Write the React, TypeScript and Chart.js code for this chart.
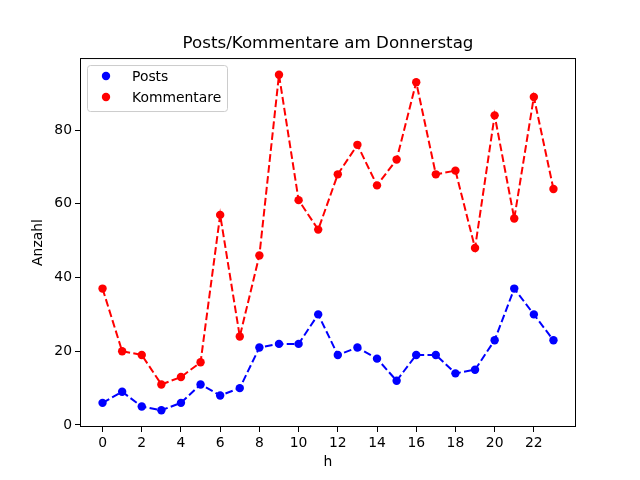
import { useEffect, useRef } from "react";
import { Chart, registerables, Plugin } from "chart.js";

Chart.register(...registerables);

const hours = [0, 1, 2, 3, 4, 5, 6, 7, 8, 9, 10, 11, 12, 13, 14, 15, 16, 17, 18, 19, 20, 21, 22, 23];
const posts = [6, 9, 5, 4, 6, 11, 8, 10, 21, 22, 22, 30, 19, 21, 18, 12, 19, 19, 14, 15, 23, 37, 30, 23];
const kommentare = [37, 20, 19, 11, 13, 17, 57, 24, 46, 95, 61, 53, 68, 76, 65, 72, 93, 68, 69, 48, 84, 56, 89, 64];
const xTicks = [0, 2, 4, 6, 8, 10, 12, 14, 16, 18, 20, 22];
const yTicks = [0, 20, 40, 60, 80];

const FONT = "'DejaVu Sans', sans-serif";

// frame around the plot area + matplotlib-style legend box
const mplPlugin: Plugin = {
   id: "mplFrame",
   afterDraw(chart) {
      const { ctx, chartArea: a } = chart;
      ctx.save();
      ctx.strokeStyle = "#000";
      ctx.lineWidth = 1;
      ctx.strokeRect(a.left + 0.5, a.top + 0.5, a.right - a.left - 1, a.bottom - a.top - 1);

      // legend
      const x = a.left + 7;
      const y = a.top + 7;
      const w = 140;
      const h = 46;
      ctx.fillStyle = "rgba(255,255,255,0.8)";
      ctx.strokeStyle = "#cccccc";
      ctx.beginPath();
      ctx.roundRect(x + 0.5, y + 0.5, w, h, 3);
      ctx.fill();
      ctx.stroke();

      ctx.font = `13.9px ${FONT}`;
      ctx.textBaseline = "middle";
      chart.data.datasets.forEach((ds, i) => {
         const cy = y + 11 + i * 21;
         ctx.fillStyle = ds.borderColor as string;
         ctx.beginPath();
         ctx.arc(x + 19, cy, 4.2, 0, Math.PI * 2);
         ctx.fill();
         ctx.fillStyle = "#000";
         ctx.fillText(ds.label ?? "", x + 45, cy + 1);
      });
      ctx.restore();
   },
};

export default function App() {
   const canvasRef = useRef<HTMLCanvasElement | null>(null);
   const chartRef = useRef<Chart | null>(null);

   useEffect(() => {
      document.body.style.margin = "0";
      if (!canvasRef.current) return;
      chartRef.current?.destroy();

      chartRef.current = new Chart(canvasRef.current, {
         type: "line",
         data: {
            datasets: [
               {
                  label: "Posts",
                  data: hours.map((h, i) => ({ x: h, y: posts[i] })),
                  borderColor: "#0000ff",
                  backgroundColor: "#0000ff",
                  borderWidth: 2,
                  borderDash: [7.7, 3.3],
                  pointRadius: 4.2,
                  pointBorderWidth: 0,
                  order: 1,
               },
               {
                  label: "Kommentare",
                  data: hours.map((h, i) => ({ x: h, y: kommentare[i] })),
                  borderColor: "#ff0000",
                  backgroundColor: "#ff0000",
                  borderWidth: 2,
                  borderDash: [7.7, 3.3],
                  pointRadius: 4.2,
                  pointBorderWidth: 0,
                  order: 0,
               },
            ],
         },
         plugins: [mplPlugin],
         options: {
            responsive: false,
            animation: false,
            layout: { padding: { right: 64, left: 0, bottom: 0, top: 0 } },
            scales: {
               x: {
                  type: "linear",
                  min: -1.15,
                  max: 24.15,
                  afterBuildTicks: (s) => {
                     s.ticks = xTicks.map((v) => ({ value: v }));
                  },
                  afterFit: (s) => {
                     s.height = 53;
                  },
                  grid: { drawOnChartArea: false, tickLength: 5, color: "#000", tickWidth: 1 },
                  border: { display: false },
                  ticks: { color: "#000", padding: 3, font: { family: FONT, size: 13.9 }, maxRotation: 0 },
                  title: {
                     display: true,
                     text: "h",
                     color: "#000",
                     font: { family: FONT, size: 13.9 },
                     padding: { top: 0, bottom: 9 },
                  },
               },
               y: {
                  type: "linear",
                  min: -0.55,
                  max: 99.55,
                  afterBuildTicks: (s) => {
                     s.ticks = yTicks.map((v) => ({ value: v }));
                  },
                  afterFit: (s) => {
                     s.width = 80;
                  },
                  grid: { drawOnChartArea: false, tickLength: 5, color: "#000", tickWidth: 1 },
                  border: { display: false },
                  ticks: { color: "#000", padding: 3, font: { family: FONT, size: 13.9 } },
                  title: {
                     display: true,
                     text: "Anzahl",
                     color: "#000",
                     font: { family: FONT, size: 13.9 },
                     padding: { top: 30, bottom: 0 },
                  },
               },
            },
            plugins: {
               legend: { display: false },
               tooltip: { enabled: false },
               title: {
                  display: true,
                  text: "Posts/Kommentare am Donnerstag",
                  color: "#000",
                  fullSize: false,
                  font: { family: FONT, size: 16.7, weight: "normal" },
                  padding: { top: 34, bottom: 4 },
               },
            },
         },
      });

      return () => {
         chartRef.current?.destroy();
      };
   }, []);

   return (
      <div style={{ width: 640, height: 480 }}>
         <canvas ref={canvasRef} width={640} height={480} />
      </div>
   );
}
